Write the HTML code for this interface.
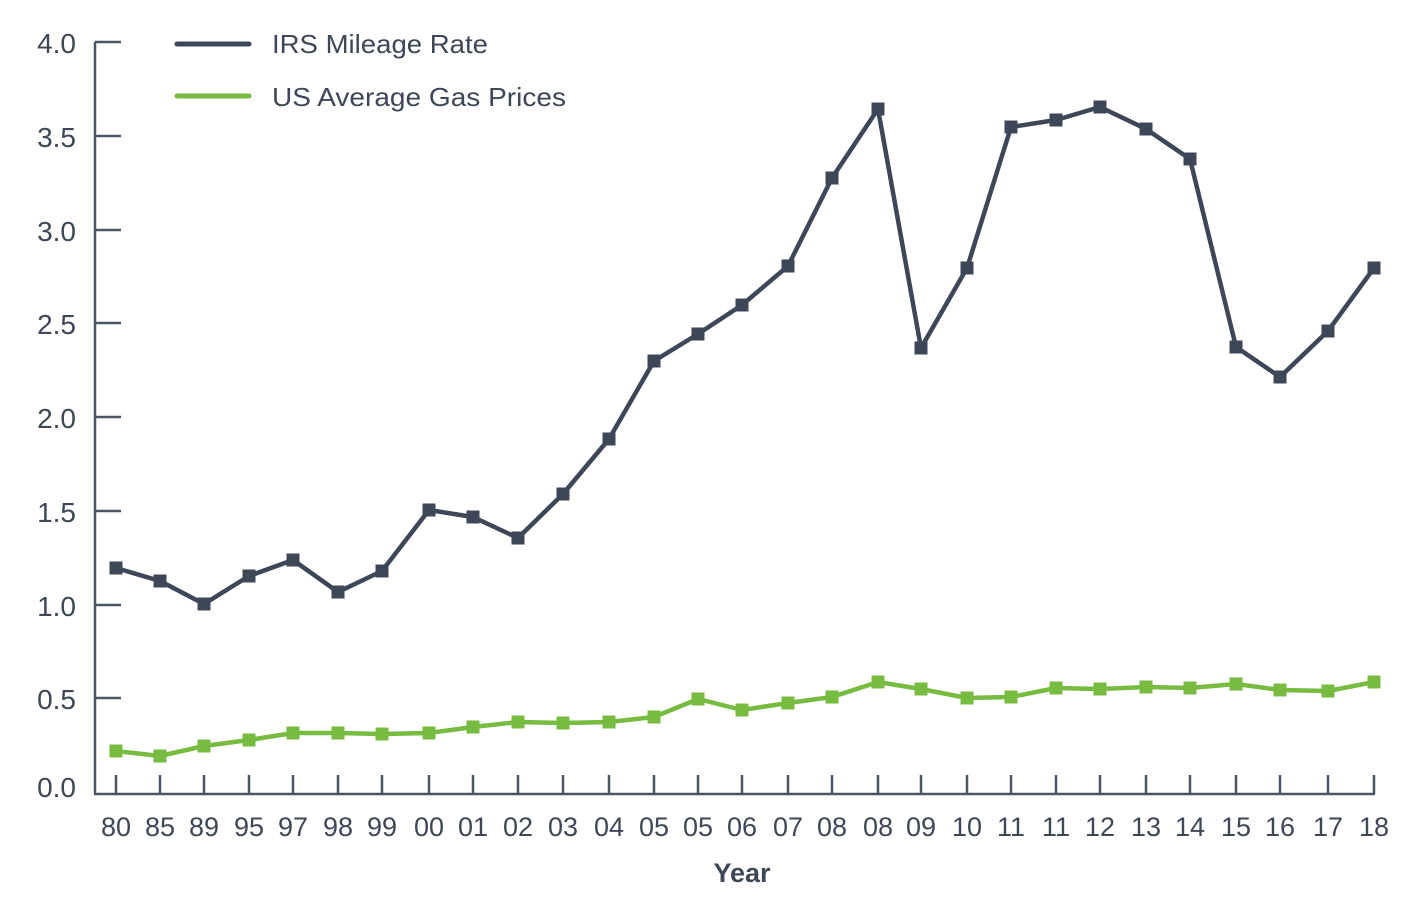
<!DOCTYPE html>
<html><head><meta charset="utf-8"><style>
html,body{margin:0;padding:0;background:#fff;}
svg{display:block;font-family:"Liberation Sans",sans-serif;}
</style></head><body>
<svg width="1418" height="906" viewBox="0 0 1418 906" xmlns="http://www.w3.org/2000/svg">
<g stroke="#4a5565" stroke-width="2.5" fill="none">
<line x1="95" y1="42" x2="95" y2="794"/>
<line x1="94" y1="794" x2="1375" y2="794"/>
<line x1="95" y1="42" x2="121" y2="42"/>
<line x1="95" y1="136" x2="121" y2="136"/>
<line x1="95" y1="230" x2="121" y2="230"/>
<line x1="95" y1="323" x2="121" y2="323"/>
<line x1="95" y1="417" x2="121" y2="417"/>
<line x1="95" y1="511" x2="121" y2="511"/>
<line x1="95" y1="605" x2="121" y2="605"/>
<line x1="95" y1="698" x2="121" y2="698"/>
</g>
<g fill="#3d4757" font-size="28" text-anchor="end">
<text x="76" y="53">4.0</text>
<text x="76" y="147">3.5</text>
<text x="76" y="241">3.0</text>
<text x="76" y="334">2.5</text>
<text x="76" y="428">2.0</text>
<text x="76" y="522">1.5</text>
<text x="76" y="616">1.0</text>
<text x="76" y="709">0.5</text>
<text x="76" y="797">0.0</text>
</g>
<g id="xt" stroke="#4a5565" stroke-width="2.5"></g>
<g id="xl" fill="#3d4757" font-size="27" text-anchor="middle"></g>
<text x="742" y="882" fill="#3d4757" font-size="27" font-weight="bold" text-anchor="middle">Year</text>
<line x1="177" y1="44" x2="249" y2="44" stroke="#3d4757" stroke-width="5" stroke-linecap="round"/>
<line x1="177" y1="96" x2="249" y2="96" stroke="#77bb41" stroke-width="5" stroke-linecap="round"/>
<text x="272" y="53" fill="#3d4757" font-size="26" textLength="216" lengthAdjust="spacingAndGlyphs">IRS Mileage Rate</text>
<text x="272" y="106" fill="#3d4757" font-size="26" textLength="294" lengthAdjust="spacingAndGlyphs">US Average Gas Prices</text>
<g id="series"></g>
</svg>
<script>
var xs=[116,160,204,249,293,338,382,429,473,518,563,609,654,698,742,788,832,878,921,967,1011,1056,1100,1146,1190,1236,1280,1328,1374];
var lab=["80","85","89","95","97","98","99","00","01","02","03","04","05","05","06","07","08","08","09","10","11","11","12","13","14","15","16","17","18"];
var a=[568,581,604,576,560,592,571,510,517,538,494,439,361,334,305,266,178,109,348,268,127,120,107,129,159,347,377,331,268];
var g=[751,756,746,740,733,733,734,733,727,722,723,722,717,699,710,703,697,682,689,698,697,688,689,687,688,684,690,691,682];
var ns="http://www.w3.org/2000/svg";
function el(t,at,p){var e=document.createElementNS(ns,t);for(var k in at)e.setAttribute(k,at[k]);p.appendChild(e);return e;}
var xt=document.getElementById("xt"),xl=document.getElementById("xl"),s=document.getElementById("series");
xs.forEach(function(x,i){el("line",{x1:x,y1:775,x2:x,y2:794},xt);var t=el("text",{x:x,y:836},xl);t.textContent=lab[i];});
function ser(d,c){var p=xs.map(function(x,i){return x+","+d[i];}).join(" ");
el("polyline",{points:p,fill:"none",stroke:c,"stroke-width":4.5,"stroke-linejoin":"round"},s);
xs.forEach(function(x,i){el("rect",{x:x-6.5,y:d[i]-6.5,width:13,height:13,fill:c},s);});}
ser(g,"#77bb41");ser(a,"#3d4757");
</script>
</body></html>
